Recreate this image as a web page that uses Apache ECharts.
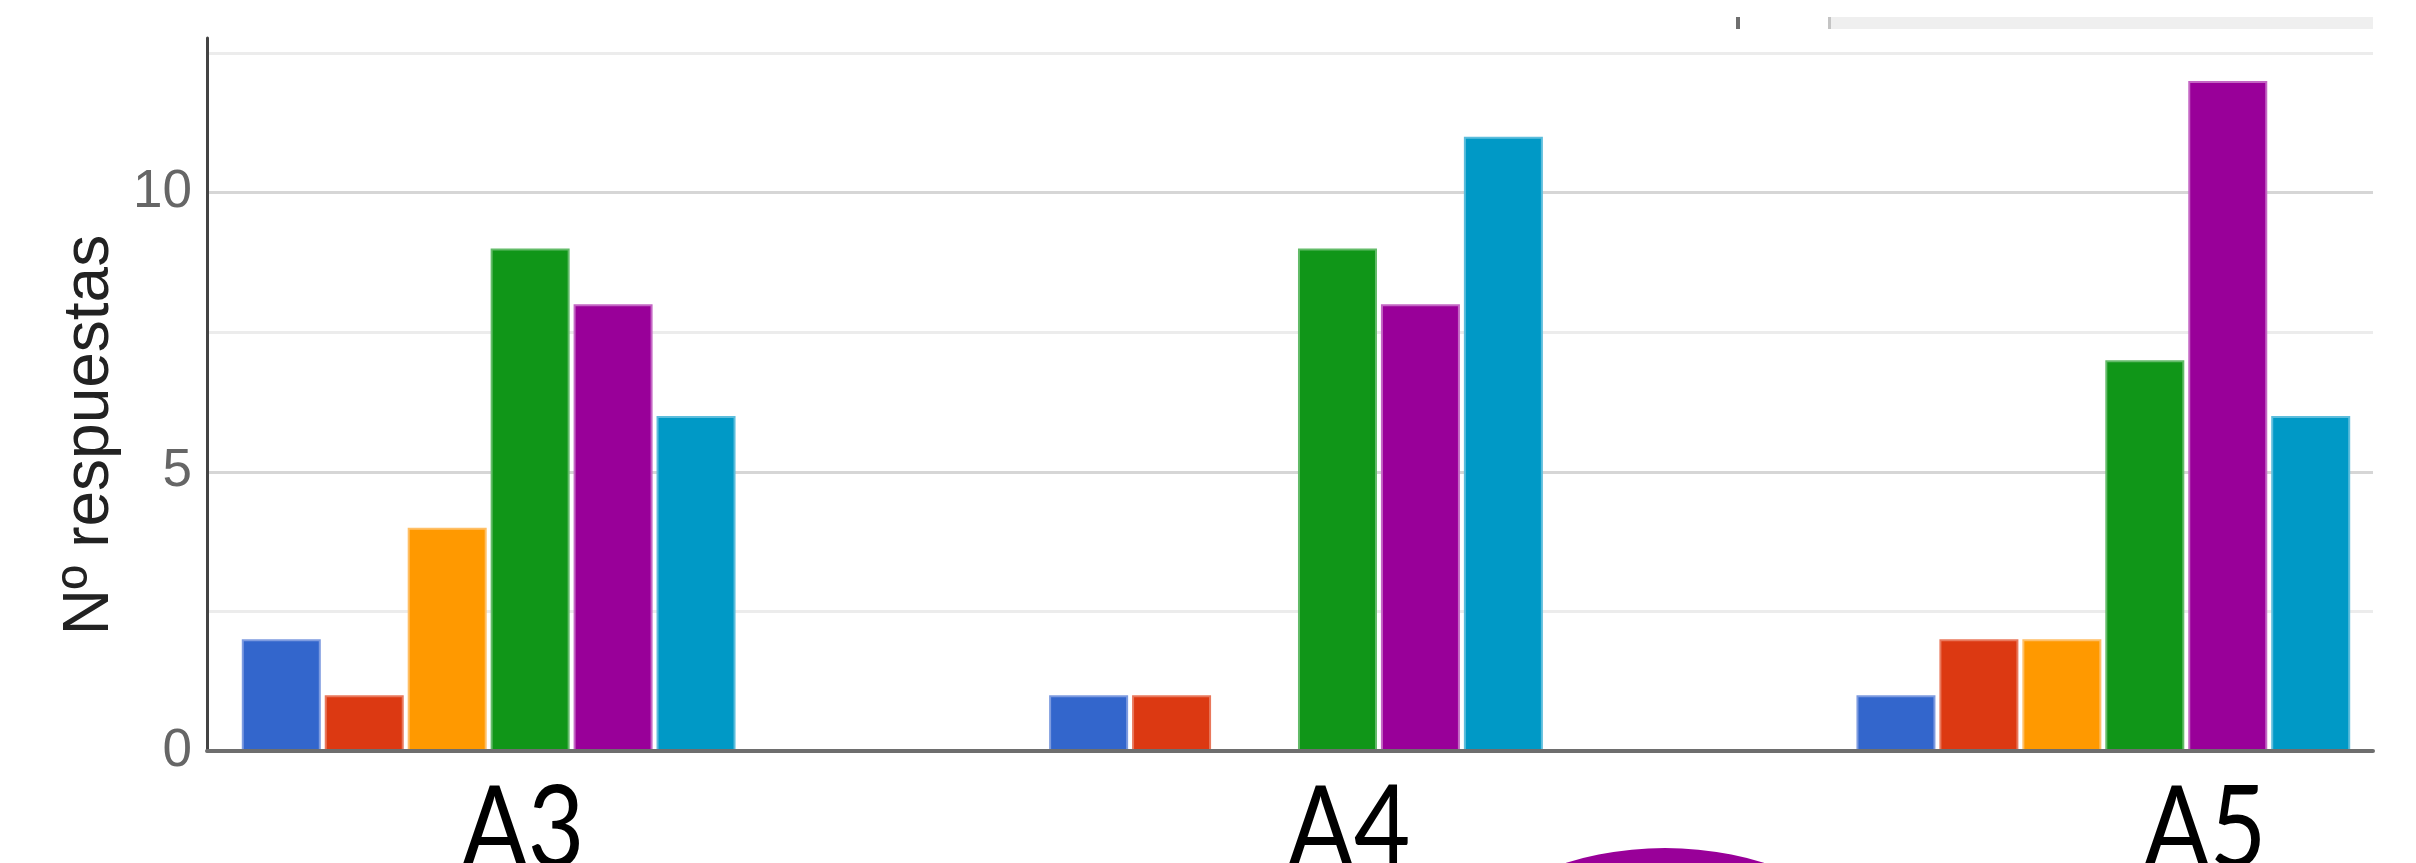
<!DOCTYPE html>
<html>
<head>
<meta charset="utf-8">
<script src="https://cdn.jsdelivr.net/npm/echarts@6/dist/echarts.min.js"></script>
<style>
html,body{margin:0;padding:0;background:#fff;}
#chart{width:2416px;height:863px;}
</style>
</head>
<body>
<div id="chart"></div>
<script>
// ---- data ----
var categories = ['A3', 'A4', 'A5'];
var seriesNames = ['S1', 'S2', 'S3', 'S4', 'S5', 'S6'];
var s1 = [2, 1, 1];
var s2 = [1, 1, 2];
var s3 = [4, 0, 2];
var s4 = [9, 9, 7];
var s5 = [8, 8, 12];
var s6 = [6, 11, 6];
var seriesValues = [s1, s2, s3, s4, s5, s6];
var yTickLabels = [0, 5, 10];
var yAxisTitle = 'Nº respuestas';

// ---- styles ----
var colors = ['#3366cc', '#dc3912', '#ff9900', '#109618', '#990099', '#0099c6'];
var borders = ['#7d9be0', '#e9785c', '#ffbf66', '#63bb69', '#c466c4', '#5cbddc'];

var chart = echarts.init(document.getElementById('chart'), null, {renderer: 'canvas'});

var yMax = 12.77;
var gridTop = 38, gridH = 713;

var series = seriesValues.map(function (vals, i) {
  return {
    name: seriesNames[i],
    type: 'bar',
    xAxisIndex: 1,
    yAxisIndex: 1,
    data: vals,
    barWidth: 79,
    barGap: '5%',
    itemStyle: {color: colors[i], borderColor: borders[i], borderWidth: 2},
    emphasis: {disabled: true},
    z: 2
  };
});

var labelCenters = [523, 1349, 2205];

var option = {
  animation: false,
  backgroundColor: '#ffffff',
  grid: [
    {left: 207, top: gridTop, width: 2166, height: gridH, containLabel: false, outerBoundsMode: 'none'},
    {left: 85, top: gridTop, width: 2422, height: gridH, containLabel: false, outerBoundsMode: 'none'}
  ],
  xAxis: [
    {
      gridIndex: 0, type: 'category', data: categories, z: 5,
      axisLine: {show: true, lineStyle: {color: '#6e6e6e', width: 4}},
      axisTick: {show: false}, axisLabel: {show: false}, splitLine: {show: false}
    },
    {
      gridIndex: 1, type: 'category', data: categories,
      axisLine: {show: false}, axisTick: {show: false}, axisLabel: {show: false}, splitLine: {show: false}
    }
  ],
  yAxis: [
    {
      gridIndex: 0, type: 'value', min: 0, max: yMax, interval: 2.5,
      name: yAxisTitle, nameLocation: 'middle', nameRotate: 90, nameGap: 82,
      nameTextStyle: {fontFamily: 'Liberation Sans', fontSize: 64, color: '#222222', padding: [0, 81, 0, 0]},
      axisLine: {show: true, lineStyle: {color: '#444444', width: 3}},
      axisTick: {show: false},
      axisLabel: {
        margin: 15, fontFamily: 'Liberation Sans', fontSize: 53, color: '#666666',
        showMinLabel: true, showMaxLabel: true,
        formatter: function (v) { return yTickLabels.indexOf(v) >= 0 ? String(v) : ''; }
      },
      splitLine: {show: true, lineStyle: {width: 3,
        color: ['#d6d6d6', '#ececec', '#d6d6d6', '#ececec', '#d6d6d6', '#ececec', 'rgba(0,0,0,0)']}}
    },
    {
      gridIndex: 1, type: 'value', min: 0, max: yMax, interval: 2.5, show: false,
      splitLine: {show: false}
    }
  ],
  series: series,
  graphic: [
    {type: 'rect', shape: {x: 1736, y: 17, width: 4, height: 12}, style: {fill: '#6f6f6f'}, silent: true},
    {type: 'rect', shape: {x: 1828, y: 17, width: 545, height: 12}, style: {fill: '#efefef'}, silent: true},
    {type: 'rect', shape: {x: 1828, y: 17, width: 3, height: 12}, style: {fill: '#c4c4c4'}, silent: true},
    {type: 'circle', shape: {cx: 1665, cy: 1188, r: 340}, style: {fill: '#990099'}, silent: true}
  ].concat(categories.map(function (c, i) {
    return {
      type: 'text', x: labelCenters[i], y: 830, scaleX: 0.85, silent: true,
      style: {text: c, fontFamily: 'Lato', fontSize: 115, fill: '#000000', textAlign: 'center', textVerticalAlign: 'middle'}
    };
  }))
};

chart.setOption(option);
</script>
</body>
</html>
